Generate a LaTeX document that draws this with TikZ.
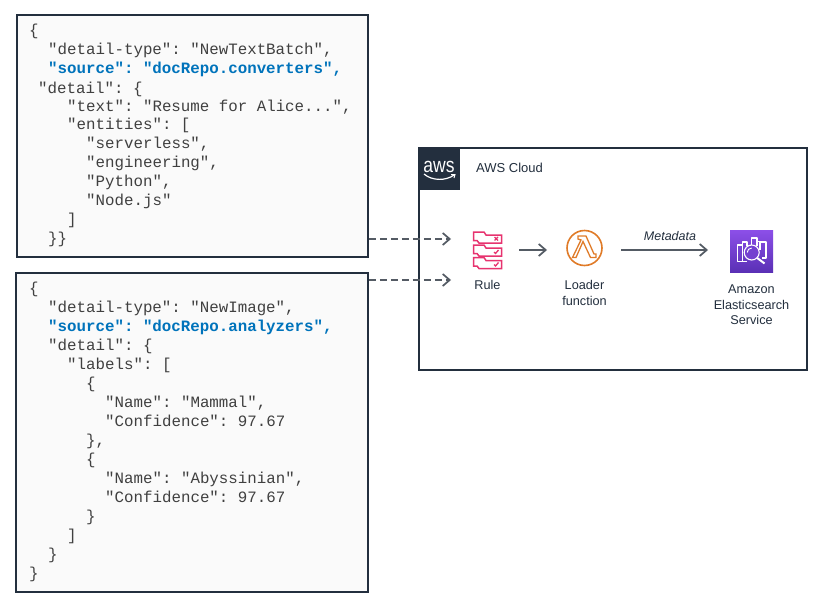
\documentclass[tikz,border=0pt]{standalone}
\usepackage{fontspec}
\setmainfont{Liberation Sans}
\newfontfamily\codefont{Liberation Mono}
\usetikzlibrary{arrows.meta}
\definecolor{awsdark}{HTML}{232F3E}
\definecolor{arrowgrey}{HTML}{545B64}
\definecolor{codeblue}{HTML}{0073BB}
\definecolor{rulepink}{HTML}{E7336F}
\definecolor{lambdaorange}{HTML}{E07B28}
\definecolor{purpletop}{HTML}{8C4FE8}
\definecolor{purplebot}{HTML}{5A30B5}
\definecolor{purplemid}{HTML}{7440D0}
\tikzset{
  x=1pt,y=-1pt,
  panel/.style={draw=awsdark,line width=1.6pt,inner sep=0pt,anchor=north west},
  codebox/.style={panel,fill=black!2},
  code/.style={anchor=base west,inner sep=0pt,font=\frenchspacing\codefont\fontsize{15.8}{19}\selectfont,text=black!75},
  src/.style={code,font=\frenchspacing\codefont\bfseries\fontsize{15.8}{19}\selectfont,text=codeblue},
  lbl/.style={align=center,inner sep=0pt,font=\fontsize{12.7}{15.6}\selectfont,text=awsdark},
  flow/.style={draw=arrowgrey,line width=1.7pt,-{Straight Barb[length=7pt,width=12pt,line width=1.7pt]}},
  dashflow/.style={flow,dash pattern=on 7pt off 4pt},
  rulebar/.style={draw=rulepink,line width=1.5pt},
  esline/.style={draw=white,line width=1.1pt,line join=round},
}
\newcommand{\ruletab}[1]{%
  \draw[rulebar] (473.5,#1) -- (484,#1) -- (486,#1+3) -- (501.5,#1+3) -- (501.5,#1+11) -- (479,#1+11) -- (477,#1+8.5) -- (473.5,#1+8.5) -- cycle;}
\begin{document}
\begin{tikzpicture}
\useasboundingbox (0,0) rectangle (818,602);
\fill[white] (0,0) rectangle (818,602);
% code boxes
\node[codebox,minimum width=351pt,minimum height=242pt] (box1) at (16.2,14.2) {};
\node[codebox,minimum width=352pt,minimum height=319pt] (box2) at (15.2,272.2) {};
\node[code] (a1) at (29,36) {\{};
\node[code] (a2) at (48,55) {"detail-type": "NewTextBatch",};
\node[src]  (a3) at (48,74) {"source": "docRepo.converters",};
\node[code] (a4) at (38,93) {"detail": \{};
\node[code] (a5) at (67,111) {"text": "Resume for Alice...",};
\node[code] (a6) at (67,129.5) {"entities": [};
\node[code] (a7) at (86,148) {"serverless",};
\node[code] (a8) at (86,167) {"engineering",};
\node[code] (a9) at (86,186) {"Python",};
\node[code] (a10) at (86,205) {"Node.js"};
\node[code] (a11) at (67,224) {]};
\node[code] (a12) at (48,243) {\}\}};
\node[code] (b1) at (29,293) {\{};
\node[code] (b2) at (48,312) {"detail-type": "NewImage",};
\node[src]  (b3) at (48,331) {"source": "docRepo.analyzers",};
\node[code] (b4) at (48,350) {"detail": \{};
\node[code] (b5) at (67,369) {"labels": [};
\node[code] (b6) at (86,388) {\{};
\node[code] (b7) at (105,407) {"Name": "Mammal",};
\node[code] (b8) at (105,426) {"Confidence": 97.67};
\node[code] (b9) at (86,445) {\},};
\node[code] (b10) at (86,464) {\{};
\node[code] (b11) at (105,483) {"Name": "Abyssinian",};
\node[code] (b12) at (105,502) {"Confidence": 97.67};
\node[code] (b13) at (86,521) {\}};
\node[code] (b14) at (67,540) {]};
\node[code] (b15) at (48,559) {\}};
\node[code] (b16) at (29,578) {\}};
% cloud
\node[panel,minimum width=388pt,minimum height=222pt] (cloud) at (418.2,147.2) {};
\node[anchor=north west,fill=awsdark,minimum width=42pt,minimum height=43pt,inner sep=0pt] (logo) at (418,147) {};
\node[anchor=base,inner sep=0pt,text=white,font=\fontsize{17.5}{18}\selectfont] (awstext) at (439,172) {\scalebox{1}[1.2]{aws}};
\draw[white,line width=1.2pt] (424,174) .. controls (432,181) and (446,181) .. (454,175);
\draw[white,line width=1pt] (451,174.5) -- (455,174.5) -- (454,178);
\node[lbl,anchor=base west,font=\fontsize{13}{15}\selectfont] (cloudlabel) at (476,172) {AWS Cloud};
% rule icon
\ruletab{232}
\ruletab{245}
\ruletab{257.5}
\draw[rulepink,line width=1.3pt] (494.5,237) -- (498,240.5) (498,237) -- (494.5,240.5);
\draw[rulepink,line width=1.3pt] (494,252) -- (495.5,253.5) -- (498.5,250);
\draw[rulepink,line width=1.3pt] (494,264.5) -- (495.5,266) -- (498.5,262.5);
\node[inner sep=0pt,minimum width=30pt,minimum height=38pt] (rule) at (487.5,250) {};
\node[lbl] (rulelabel) at (487.5,285) {Rule};
% lambda icon
\node[circle,draw=lambdaorange,line width=1.6pt,minimum size=35pt,inner sep=0pt] (lambda) at (584.5,248) {};
\draw[lambdaorange,line width=1.3pt,line join=miter] (578,236) -- (586,236) -- (594,254) -- (596,254) -- (596,257.5) -- (590.5,257.5) -- (583,241.5) -- (576,257.5) -- (572.5,257.5) -- (581,240) -- (578,239) -- cycle;
\node[lbl] (lambdalabel) at (584.5,293) {Loader\\function};
% elasticsearch icon
\node[anchor=north west,top color=purpletop,bottom color=purplebot,minimum width=43pt,minimum height=42pt,inner sep=0pt] (es) at (730,230) {};
\draw[esline] (743,261.5) -- (737.5,261.5) -- (737.5,245) -- (742.5,245) -- (742.5,261.5) -- (747,261.5);
\draw[esline] (742.5,245) -- (742.5,242) -- (747,242) -- (747,246);
\draw[esline] (751.5,244.5) -- (751.5,238) -- (757,238) -- (757,246);
\draw[esline] (757,241.5) -- (760,241.5);
\draw[esline] (760,250) -- (760,242) -- (766,242) -- (766,258) -- (762,258);
\draw[white,line width=1.1pt,fill=purplemid] (751.7,252.5) circle (7.5pt);
\draw[white,line width=.9pt] (747.2,252.5) arc[start angle=180,end angle=90,radius=4.5pt];
\draw[white,line width=2pt] (757.2,258) -- (764.5,263.5);
\node[lbl] (eslabel) at (751.5,305) {Amazon\\Elasticsearch\\Service};
% connectors
\coordinate (t1) at (451,239);
\coordinate (t2) at (451,280);
\draw[dashflow] (box1.east |- t1) -- (t1);
\draw[dashflow] (box2.east |- t2) -- (t2);
\draw[flow] (519,250) -- (547,250);
\draw[flow] (621,250) -- (708,250);
\node[lbl,font=\fontsize{12.5}{15}\itshape\selectfont] (meta) at (670,236) {Metadata};
\end{tikzpicture}
\end{document}
